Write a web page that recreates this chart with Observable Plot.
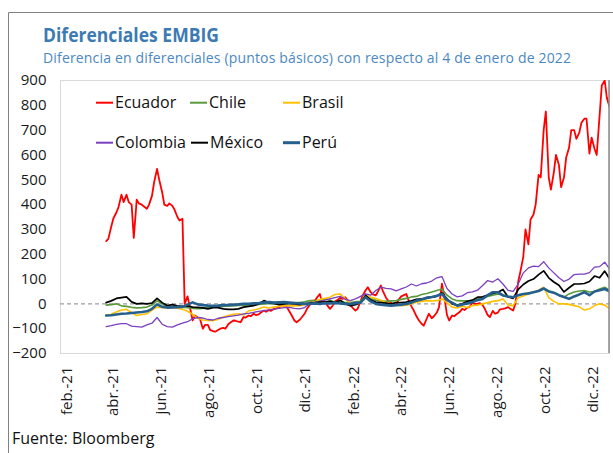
<!DOCTYPE html>
<html>
<head>
<meta charset="utf-8">
<script src="https://cdn.jsdelivr.net/npm/d3@7"></script>
<script src="https://cdn.jsdelivr.net/npm/@observablehq/plot@0.6"></script>
<style>
  html, body { margin: 0; padding: 0; background: #fff; }
  body { font-family: "Open Sans", sans-serif; }
  #wrap { position: relative; width: 613px; height: 453px; overflow: hidden; background: #fff; }
  #chart { position: absolute; left: 0; top: 0; }
  #chart svg { background: transparent !important; }
  #chart g[aria-label="x-axis tick label"] text { font-size: 15px; }
  #chart g[aria-label="y-axis tick label"] text { font-size: 15px; }
  #overlay { position: absolute; left: 0; top: 0; pointer-events: none; }
</style>
</head>
<body>
<div id="wrap">
  <div id="chart"></div>
  <svg id="overlay" width="613" height="453"></svg>
</div>
<script>
// ---- Data (basis-point differences vs 4 Jan 2022) ----
const series = ["Ecuador", "Chile", "Brasil", "Colombia", "México", "Perú"];
const colors = ["#ff0000", "#5a9a3b", "#ffc000", "#7b3fbf", "#000000", "#255f8e"];

// observation grid: one reading every 155 h from 23 Mar 2021; Ecuador has an extra reading 66 h after each
const gridStart = Date.UTC(2021, 2, 23);
const HOUR = 3600e3;
const weeklyDates = d3.range(100).map(k => new Date(gridStart + k * 155 * HOUR));
const midDates = d3.range(99).map(k => new Date(gridStart + (k * 155 + 66) * HOUR));
const ecuadorDates = d3.sort(weeklyDates.concat(midDates), d => +d);

const ecuador = [
  253,262, 312,345, 368,390, 440,410, 440,410, 400,266, 420,405, 400,392, 383,400, 435,490,
  544,500, 450,400, 395,405, 395,380, 350,336, 343,0, 30,-10, -67,-47, -55,-60, -100,-85,
  -85,-105, -110,-112, -105,-100, -97,-100, -82,-75, -67,-68, -72,-74, -53,-55, -47,-50, -40,-45,
  -42,-35, -27,-32, -25,-28, -20,-18, -13,-10, -7,-10, -30,-45, -67,-74, -65,-55, -40,-22,
  -5,13, 13,25, 40,7, 10,-5, -20,-10, 10,15, 25,20, 27,15, -5,-15, -27,-20,
  10,34, 55,67, 47,38, 34,50, 74,50, 25,13, 5,-5, -5,15, 30,34, 40,15,
  -10,-25, -50,-65, -80,-88, -60,-40, -58,-50, -35,-13, 81,34, -45,-67, -47,-50, -40,-34,
  -20,-25, -15,-13, 5,0, 0,3, -5,-20, -45,-53, -28,-40, -35,-22, -20,-18, -13,-20,
  -27,0, 90,130, 190,300, 240,340, 360,400, 520,510, 700,775, 510,460, 530,600, 560,470,
  510,590, 630,700, 700,665, 690,730, 746,746, 605,670, 625,600, 760,880, 900,830,
  790
];
const chile = [
  -5,-3,0,-8,-10,-14,-16,-15,-13,-5, 12,0,-12,-12,-13,-13,-15,-18,-20,-18,
  -15,-12,-10,-10,-8,-8,-6,-5,-5,-3, -2,0,2,0,0,2,3,5,5,8,
  13,12,15,20,15,7,10,5,5,8, 10,34,20,15,12,10,12,13,18,22,
  28,30,38,42,48,54,60,35,20,13, 12,12,13,20,27,30,35,40,35,28,
  27,35,40,45,47,52,60,52,45,35, 27,40,48,52,54,48,50,60,67,54
];
const brasil = [
  -47,-42,-33,-25,-22,-35,-47,-43,-40,-25, -13,-14,-15,-15,-18,-22,-30,-42,-58,-65,
  -67,-68,-62,-53,-47,-42,-40,-45,-28,-25, -20,-13,-17,-13,-10,-8,-7,-8,-7,-3,
  3,8,18,22,27,38,40,20,2,0, 5,38,27,22,15,5,0,-5,-7,-5,
  0,7,10,13,12,13,20,5,-13,-17, -10,-15,-7,-5,0,5,10,13,20,-5,
  -7,25,32,40,47,55,67,25,10,0, 0,-2,-7,-12,-25,-20,-7,0,-5,-20
];
const colombia = [
  -92,-88,-83,-80,-80,-90,-92,-94,-85,-78, -55,-82,-92,-94,-85,-78,-72,-60,-55,-57,
  -63,-65,-58,-55,-51,-48,-45,-40,-38,-34, -30,-27,-24,-21,-18,-15,-14,-18,-20,-15,
  0,6,10,15,20,25,30,18,13,20, 30,40,35,54,67,62,60,52,60,68,
  80,72,81,84,92,105,110,62,40,28, 32,45,48,55,74,94,88,101,80,54,
  50,80,125,145,152,150,170,145,125,105, 90,100,118,120,120,126,148,150,168,140
];
const mexico = [
  5,12,22,25,28,8,0,2,0,3, 22,5,-7,-3,-8,-10,-8,-13,-14,-16,
  -20,-15,-15,-20,-22,-22,-20,-13,-10,-7, 0,13,5,2,-3,0,2,0,-3,0,
  3,5,7,7,10,5,15,0,-7,-3, 5,34,15,7,5,3,0,5,5,7,
  12,18,20,22,27,30,45,20,0,-5, 0,10,15,27,28,35,42,47,58,28,
  22,58,78,92,100,118,133,105,88,75, 48,65,80,80,82,90,112,105,132,100
];
const peru = [
  -47,-46,-43,-40,-39,-37,-35,-33,-30,-20, -2,-12,-15,-14,-13,-12,-3,6,-2,-5,
  -7,-8,-7,-5,-5,-3,-2,0,0,2, 3,5,7,5,6,7,5,3,2,0,
  0,2,0,3,2,4,2,0,0,3, 5,27,10,0,-3,-5,-7,-5,-3,0,
  5,13,18,25,28,33,40,15,5,-7, -3,2,7,15,20,35,47,47,34,30,
  27,35,40,42,47,52,62,50,45,35, 28,20,30,38,47,35,50,55,60,50
];

const yTicks = [-200, -100, 0, 100, 200, 300, 400, 500, 600, 700, 800, 900];
const xTickDates = ["2021-02-01","2021-04-01","2021-06-01","2021-08-01","2021-10-01","2021-12-01",
                    "2022-02-01","2022-04-01","2022-06-01","2022-08-01","2022-10-01","2022-12-01"];
const xTickLabels = ["feb.-21","abr.-21","jun.-21","ago.-21","oct.-21","dic.-21",
                     "feb.-22","abr.-22","jun.-22","ago.-22","oct.-22","dic.-22"];

const titleText = "Diferenciales EMBIG";
const subtitleText = "Diferencia en diferenciales (puntos básicos) con respecto al 4 de enero de 2022";
const sourceText = "Fuente: Bloomberg";

// ---- Build tables ----
function toRows(dates, values, name) {
  const n = Math.min(dates.length, values.length);
  const out = [];
  for (let i = 0; i < n; i++) out.push({date: dates[i], value: values[i], pais: name});
  return out;
}
const valuesBySeries = [ecuador, chile, brasil, colombia, mexico, peru];
const widths = [1.8, 1.6, 1.6, 1.3, 1.7, 2.6];
const tables = valuesBySeries.map((vals, i) =>
  toRows(i === 0 ? ecuadorDates : weeklyDates, vals, series[i]));

const tickDates = xTickDates.map(s => new Date(s + "T00:00Z"));
const labelByTime = new Map(tickDates.map((d, i) => [+d, xTickLabels[i]]));

const plot = Plot.plot({
  width: 613,
  height: 425,
  marginLeft: 60,
  marginRight: 4,
  marginTop: 80,
  marginBottom: 72,
  style: {fontFamily: "'Open Sans', sans-serif", fontSize: "15px", color: "#1a1a1a", background: "transparent"},
  x: {
    type: "utc",
    domain: [new Date("2021-01-24T00:00Z"), new Date("2022-12-22T00:00Z")],
    ticks: tickDates,
    tickFormat: d => labelByTime.get(+d),
    tickRotate: -90,
    tickSize: 0,
    tickPadding: 13,
    label: null
  },
  y: {
    domain: [-200, 900],
    ticks: yTicks,
    tickSize: 0,
    tickPadding: 14,
    label: null
  },
  marks: [
    Plot.frame({stroke: "#d9d9d9"}),
    Plot.ruleY([0], {stroke: "#9e9e9e", strokeDasharray: "4,3", strokeWidth: 1.4}),
    ...tables.map((t, i) => Plot.line(t, {
      x: "date", y: "value", stroke: colors[i], strokeWidth: widths[i], clip: true
    }))
  ]
});
document.getElementById("chart").appendChild(plot);

// ---- Overlay: border, title, subtitle, source, legend ----
const ov = d3.select("#overlay");
ov.append("path").attr("d", "M8.5,453V12.5H613").attr("fill", "none").attr("stroke", "#808080").attr("stroke-width", 1);
ov.append("line").attr("x1", 609).attr("x2", 609).attr("y1", 80).attr("y2", 353)
  .attr("stroke", "#8a8a8a").attr("stroke-width", 1.5);

const font = "'Open Sans', sans-serif";
ov.append("text").attr("x", 43).attr("y", 42).attr("font-family", font).attr("font-size", 20)
  .attr("font-weight", 700).attr("fill", "#3c7ab3")
  .attr("textLength", 176).attr("lengthAdjust", "spacingAndGlyphs").text(titleText);
ov.append("text").attr("x", 43).attr("y", 62.5).attr("font-family", font).attr("font-size", 14)
  .attr("fill", "#4b88c3")
  .attr("textLength", 528).attr("lengthAdjust", "spacing").text(subtitleText);
ov.append("text").attr("x", 12).attr("y", 444).attr("font-family", font).attr("font-size", 16)
  .attr("fill", "#111").text(sourceText);

const legendPos = [
  {sx: 96, tx: 115, y: 102.7, base: 108.3},
  {sx: 190, tx: 209, y: 102.7, base: 108.3},
  {sx: 283, tx: 302, y: 102.7, base: 108.3},
  {sx: 96, tx: 115, y: 142.7, base: 148.3},
  {sx: 191, tx: 210, y: 142.7, base: 148.3},
  {sx: 283, tx: 302, y: 142.7, base: 148.3}
];
series.forEach((name, i) => {
  const p = legendPos[i];
  ov.append("line").attr("x1", p.sx).attr("x2", p.sx + 17).attr("y1", p.y).attr("y2", p.y)
    .attr("stroke", colors[i]).attr("stroke-width", i === 5 ? 3 : 2);
  ov.append("text").attr("x", p.tx).attr("y", p.base).attr("font-family", font)
    .attr("font-size", 16).attr("fill", "#111").text(name);
});
</script>
</body>
</html>
